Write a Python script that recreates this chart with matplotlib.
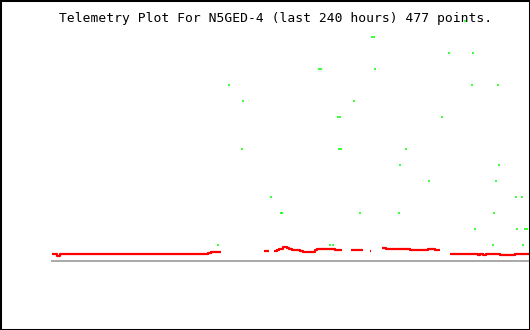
import numpy as np
import matplotlib
matplotlib.use('Agg')
import matplotlib.pyplot as plt
from matplotlib.patches import Rectangle

nan = np.nan
title = 'Telemetry Plot For N5GED-4 (last 240 hours) 477 points.'

# red channel (hours, value); nan marks a gap with no data
red_hours = [0, 2.5, 4.0, 78.3, 79.8, 84.9, nan,
             106.4, 109.0, nan,
             111.5, 113.0, 114.0, 116.0, 118.0, 119.0, 120.5, 122.0, 124.5,
             126.0, 132.0, 133.1, 142.1, 145.6, nan,
             150.1, 152.1, 156.2, nan,
             159.7, 160.2, nan,
             165.7, 167.7, 171.2, 174.2, 178.2, 179.7, 188.8, 192.3, 194.8, nan,
             199.8, 213.9, 214.9, 216.4, 217.9, 224.9, 232.5, 240]
red_vals = [0.44, 0.34, 0.44, 0.50, 0.56, 0.56, nan,
            0.62, 0.62, nan,
            0.62, 0.66, 0.78, 0.88, 0.81, 0.75, 0.69, 0.66, 0.62,
            0.59, 0.69, 0.72, 0.66, 0.66, nan,
            0.70, 0.66, 0.66, nan,
            0.62, 0.62, nan,
            0.84, 0.78, 0.72, 0.78, 0.72, 0.66, 0.72, 0.66, 0.66, nan,
            0.44, 0.38, 0.44, 0.38, 0.44, 0.38, 0.44, 0.44]

# green channel readings
green_hours = [83.3, 139.6, 141.1, 221.4, 236.5,
               212.4, 233.5, 237.5, 238.5,
               115.0, 115.5, 154.6, 174.2, 221.9,
               110.0, 233.0, 236.0,
               189.3, 222.9,
               174.7, 224.4,
               95.4, 144.1, 145.1, 177.7,
               143.6, 144.6, 195.8,
               95.9, 151.6,
               88.9, 210.9, 223.9,
               134.1, 135.1, 162.2,
               199.3, 211.4,
               160.7, 161.7,
               207.4]
green_vals = [1, 1, 1, 1, 1,
              2, 2, 2, 2,
              3, 3, 3, 3, 3,
              4, 4, 4,
              5, 5,
              6, 6,
              7, 7, 7, 7,
              9, 9, 9,
              10, 10,
              11, 11, 11,
              12, 12, 12,
              13, 13,
              14, 14,
              15]

fig = plt.figure(figsize=(5.3, 3.3), dpi=100)
fig.patches.append(Rectangle((0, 0), 1, 1, transform=fig.transFigure,
                             fill=False, edgecolor='black', linewidth=2.2))
ax = fig.add_axes([52 / 530, 69 / 330, 478 / 530, 240 / 330])
ax.set_xlim(0, 240)
ax.set_ylim(0, 15)
ax.axis('off')

ax.axhline(0, color='#aaaaaa', linewidth=1.44, clip_on=False)
ax.plot(red_hours, red_vals, color='#ff0000', linewidth=1.6,
        drawstyle='steps-post', solid_capstyle='butt', clip_on=False)
ax.plot(green_hours, green_vals, linestyle='none', marker='|', markersize=2,
        markeredgewidth=1.1, color='#00ff00', clip_on=False)

fig.text(275.5 / 530, 1 - 22 / 330, title, ha='center', va='baseline',
         family='DejaVu Sans Mono', fontsize=9.4, color='black')

plt.savefig('out.png', dpi=100)
